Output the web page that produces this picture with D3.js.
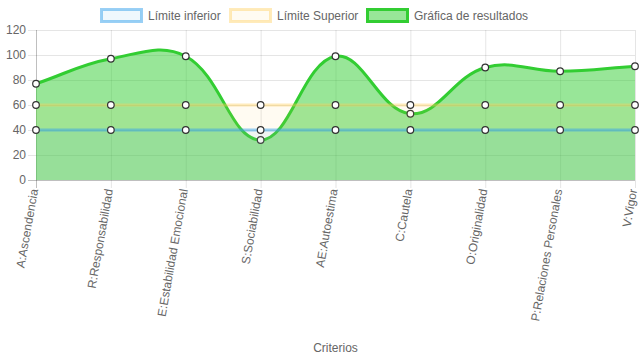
<!DOCTYPE html>
<html><head><meta charset="utf-8">
<script src="https://cdn.jsdelivr.net/npm/d3@7"></script>
<style>body{margin:0;background:#fff}svg{display:block;font-family:"Liberation Sans",Arial,Helvetica,sans-serif}</style>
</head><body><svg id="c" width="639" height="360"></svg>
<script>
const categories = ["A:Ascendencia","R:Responsabilidad","E:Estabilidad Emocional","S:Sociabilidad","AE:Autoestima","C:Cautela","O:Originalidad","P:Relaciones Personales","V:Vigor"];
const limiteInferior = [40,40,40,40,40,40,40,40,40];
const limiteSuperior = [60,60,60,60,60,60,60,60,60];
const resultados = [77,97,99,32,99,53,90,87,91];
const yTicks = [0,20,40,60,80,100,120];
const seriesNames = ["Límite inferior","Límite Superior","Gráfica de resultados"];

const svg = d3.select("#c");
const L=36, R=635, T=30, B=180;
const x = d3.scalePoint().domain(categories).range([L,R]);
const y = d3.scaleLinear().domain([0,120]).range([B,T]);

const series = [
  {name:seriesNames[0], data:limiteInferior, stroke:"rgba(54,162,235,0.5)", fill:"rgba(54,162,235,0.08)"},
  {name:seriesNames[1], data:limiteSuperior, stroke:"rgba(255,205,86,0.4)", fill:"rgba(255,205,86,0.08)"},
  {name:seriesNames[2], data:resultados, stroke:"rgb(50,205,50)", fill:"rgba(50,205,50,0.5)"}
];

// grid
const g = svg.append("g");
g.selectAll(".hg").data(yTicks).join("line")
  .attr("x1",L-8).attr("x2",R).attr("y1",d=>y(d)+0.5).attr("y2",d=>y(d)+0.5)
  .attr("stroke",d=>d===0?"rgba(0,0,0,0.25)":"rgba(0,0,0,0.1)");
g.selectAll(".vg").data(categories).join("line")
  .attr("x1",d=>x(d)+0.5).attr("x2",d=>x(d)+0.5).attr("y1",T).attr("y2",B+8)
  .attr("stroke",(d,i)=>i===0?"rgba(0,0,0,0.25)":"rgba(0,0,0,0.1)");

g.selectAll(".yl").data(yTicks).join("text")
  .attr("x",L-10).attr("y",d=>y(d)).attr("dy","0.35em").attr("text-anchor","end")
  .attr("font-size",12).attr("fill","#666").text(d=>d);

g.selectAll(".xl").data(categories).join("text")
  .attr("transform",d=>`translate(${x(d)-2},${B+9}) rotate(-80)`)
  .attr("text-anchor","end").attr("dy","0.35em")
  .attr("font-size",12).attr("fill","#666").text(d=>d);

svg.append("text").attr("x",(L+R)/2).attr("y",352).attr("text-anchor","middle")
  .attr("font-size",12).attr("fill","#666").text("Criterios");

// Chart.js-like spline
function splinePath(pts, tension){
  const n=pts.length, cps=[];
  for(let i=0;i<n;i++){
    const p=pts[i], prev=pts[i-1]||p, next=pts[i+1]||p;
    const d01=Math.hypot(p[0]-prev[0],p[1]-prev[1]);
    const d12=Math.hypot(next[0]-p[0],next[1]-p[1]);
    let s01=d01/(d01+d12), s12=d12/(d01+d12);
    if(isNaN(s01)) s01=0; if(isNaN(s12)) s12=0;
    const fa=tension*s01, fb=tension*s12;
    cps.push({prev:[p[0]-fa*(next[0]-prev[0]), p[1]-fa*(next[1]-prev[1])],
              next:[p[0]+fb*(next[0]-prev[0]), p[1]+fb*(next[1]-prev[1])]});
  }
  const path=d3.path();
  path.moveTo(pts[0][0],pts[0][1]);
  for(let i=1;i<n;i++){
    path.bezierCurveTo(cps[i-1].next[0],cps[i-1].next[1],cps[i].prev[0],cps[i].prev[1],pts[i][0],pts[i][1]);
  }
  return path.toString();
}

const order = [2,1,0];
order.forEach(si=>{
  const s=series[si];
  const pts=s.data.map((v,i)=>[x(categories[i]),y(v)]);
  const line=splinePath(pts,0.4);
  const area=line+`L${pts[pts.length-1][0]},${y(0)}L${pts[0][0]},${y(0)}Z`;
  svg.append("path").attr("d",area).attr("fill",s.fill);
  svg.append("path").attr("d",line).attr("fill","none").attr("stroke",s.stroke).attr("stroke-width",3);
  svg.append("g").selectAll("circle").data(pts).join("circle")
    .attr("cx",d=>d[0]).attr("cy",d=>d[1]).attr("r",3.3)
    .attr("fill","#fff").attr("stroke","#333").attr("stroke-width",1.2);
});

// legend
const legX=[100,229,366];
const lg=svg.append("g");
series.forEach((s,i)=>{
  lg.append("rect").attr("x",legX[i]+1.5).attr("y",9.5).attr("width",40).attr("height",12)
    .attr("fill",s.fill).attr("stroke",s.stroke).attr("stroke-width",3);
  lg.append("text").attr("x",legX[i]+48).attr("y",15.5).attr("dy","0.35em")
    .attr("font-size",12).attr("fill","#666").text(s.name);
});
</script></body></html>
